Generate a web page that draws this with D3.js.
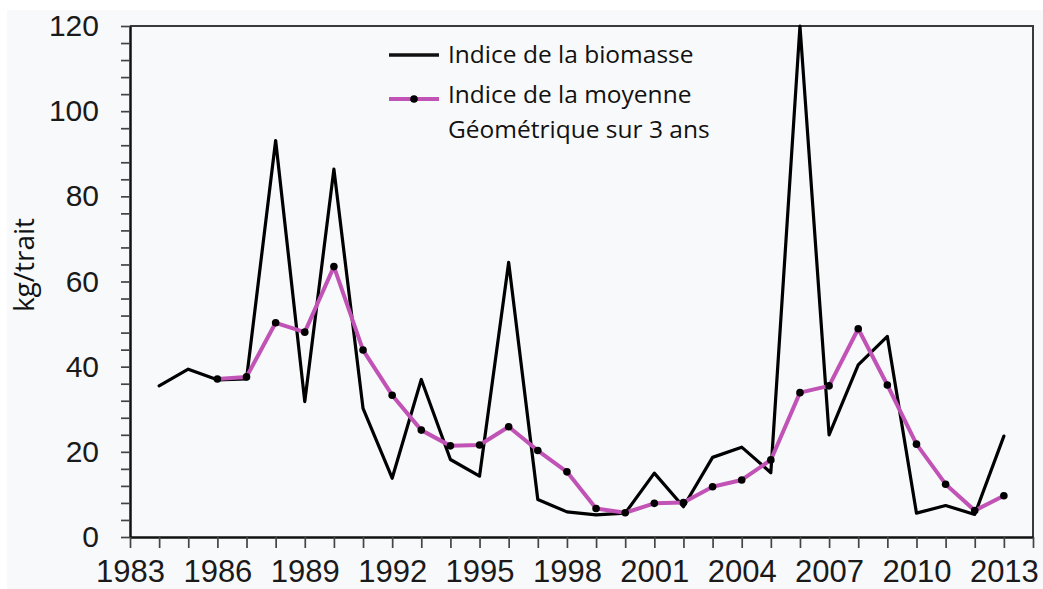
<!DOCTYPE html>
<html>
<head>
<meta charset="utf-8">
<script src="https://cdn.jsdelivr.net/npm/d3@7"></script>
<style>
  html, body { margin: 0; padding: 0; background: #ffffff; }
  svg { display: block; }
</style>
</head>
<body>
<svg id="chart" width="1043" height="589"></svg>
<script>
// ---- Data ----
const biomassYears = [1984, 1985, 1986, 1987, 1988, 1989, 1990, 1991, 1992, 1993,
                      1994, 1995, 1996, 1997, 1998, 1999, 2000, 2001, 2002, 2003,
                      2004, 2005, 2006, 2007, 2008, 2009, 2010, 2011, 2012, 2013];
const biomassValues = [35.5, 39.4, 36.9, 37.1, 93.1, 31.8, 86.4, 30.2, 13.8, 37.0,
                       18.2, 14.3, 64.5, 8.8, 5.9, 5.2, 5.6, 15.0, 7.1, 18.7,
                       21.1, 15.1, 120, 24.0, 40.4, 47.1, 5.6, 7.4, 5.3, 23.7];

const geoYears = [1986, 1987, 1988, 1989, 1990, 1991, 1992, 1993, 1994, 1995,
                  1996, 1997, 1998, 1999, 2000, 2001, 2002, 2003, 2004, 2005,
                  2006, 2007, 2008, 2009, 2010, 2011, 2012, 2013];
const geoValues = [37.1, 37.6, 50.3, 48.1, 63.5, 43.9, 33.3, 25.1, 21.4, 21.6,
                   25.9, 20.3, 15.3, 6.7, 5.7, 7.9, 8.1, 11.8, 13.4, 18.1,
                   33.9, 35.5, 48.9, 35.7, 21.8, 12.4, 6.2, 9.7];

const xTickYears = [1983, 1984, 1985, 1986, 1987, 1988, 1989, 1990, 1991, 1992,
                    1993, 1994, 1995, 1996, 1997, 1998, 1999, 2000, 2001, 2002,
                    2003, 2004, 2005, 2006, 2007, 2008, 2009, 2010, 2011, 2012,
                    2013, 2014];
const xLabelYears = [1983, 1986, 1989, 1992, 1995, 1998, 2001, 2004, 2007, 2010, 2013];
const yTickValues = [0, 4, 8, 12, 16, 20, 24, 28, 32, 36, 40, 44, 48, 52, 56, 60,
                     64, 68, 72, 76, 80, 84, 88, 92, 96, 100, 104, 108, 112, 116, 120];
const yLabelValues = [0, 20, 40, 60, 80, 100, 120];

const yAxisTitle = "kg/trait";
const legendLabels = ["Indice de la biomasse", "Indice de la moyenne", "Géométrique sur 3 ans"];

// ---- Layout ----
const W = 1043, H = 589;
const plot = { left: 130, right: 1033, top: 26, bottom: 537 };
const pink = "#c053b5";

const svg = d3.select("#chart");

// backgrounds
svg.append("rect").attr("x", 0).attr("y", 0).attr("width", W).attr("height", H).attr("fill", "#ffffff");
svg.append("rect").attr("x", 7).attr("y", 10).attr("width", W - 7).attr("height", H - 10).attr("fill", "#f8f9fb");

const x = d3.scaleLinear().domain([1983, 2014]).range([plot.left, plot.right]);
const y = d3.scaleLinear().domain([0, 120]).range([plot.bottom, plot.top]);

// frame (top & right)
svg.append("path")
  .attr("d", `M${plot.left},${plot.top}H${plot.right}V${plot.bottom}`)
  .attr("fill", "none").attr("stroke", "#3a3a3a").attr("stroke-width", 2);

// Y axis
const yAxis = d3.axisLeft(y)
  .tickValues(yTickValues)
  .tickFormat(d => yLabelValues.includes(d) ? String(d) : "")
  .tickSize(9).tickSizeOuter(0).tickPadding(22);
const gy = svg.append("g").attr("transform", `translate(${plot.left},0)`).call(yAxis);
gy.select(".domain").attr("stroke", "#111").attr("stroke-width", 2.5);
gy.selectAll(".tick line").attr("stroke", "#444").attr("stroke-width", 1.7);
gy.selectAll(".tick text")
  .attr("fill", "#1a1a1a")
  .style("font-family", "'Liberation Sans', Arial, sans-serif")
  .style("font-size", "30px");

// X axis
const xAxis = d3.axisBottom(x)
  .tickValues(xTickYears)
  .tickFormat(d => xLabelYears.includes(d) ? String(d) : "")
  .tickSize(11).tickSizeOuter(0).tickPadding(12);
const gx = svg.append("g").attr("transform", `translate(0,${plot.bottom})`).call(xAxis);
gx.select(".domain").attr("stroke", "#111").attr("stroke-width", 2.5);
gx.selectAll(".tick line").attr("stroke", "#444").attr("stroke-width", 1.7);
gx.selectAll(".tick text")
  .attr("fill", "#1a1a1a")
  .style("font-family", "'Liberation Sans', Arial, sans-serif")
  .style("font-size", "31px");

// Y axis title
svg.append("text")
  .attr("transform", `translate(34,265) rotate(-90)`)
  .attr("text-anchor", "middle")
  .attr("fill", "#111")
  .style("font-family", "'Open Sans', sans-serif")
  .style("font-size", "28px")
  .text(yAxisTitle);

// Lines
const biomass = biomassYears.map((yr, i) => ({ yr, v: biomassValues[i] }));
const geo = geoYears.map((yr, i) => ({ yr, v: geoValues[i] }));
const line = d3.line().x(d => x(d.yr)).y(d => y(d.v));

svg.append("path").datum(biomass)
  .attr("d", line)
  .attr("fill", "none").attr("stroke", "#000").attr("stroke-width", 3.2)
  .attr("stroke-linejoin", "round").attr("stroke-linecap", "round");

svg.append("path").datum(geo)
  .attr("d", line)
  .attr("fill", "none").attr("stroke", pink).attr("stroke-width", 4)
  .attr("stroke-linejoin", "round");

svg.append("g").selectAll("circle").data(geo).join("circle")
  .attr("cx", d => x(d.yr)).attr("cy", d => y(d.v)).attr("r", 3.8)
  .attr("fill", "#000");

// Legend
const lg = svg.append("g").attr("transform", "translate(389,0)");
lg.append("line").attr("x1", 0).attr("x2", 50).attr("y1", 55).attr("y2", 55)
  .attr("stroke", "#111").attr("stroke-width", 3.5);
lg.append("line").attr("x1", 0).attr("x2", 50).attr("y1", 99).attr("y2", 99)
  .attr("stroke", pink).attr("stroke-width", 4);
lg.append("circle").attr("cx", 25).attr("cy", 99).attr("r", 3.8).attr("fill", "#000");
const legendBaselines = [63, 103, 138];
lg.selectAll("text.leg").data(legendLabels).join("text")
  .attr("class", "leg")
  .attr("x", 59).attr("y", (d, i) => legendBaselines[i])
  .attr("fill", "#111")
  .style("font-family", "'Open Sans', sans-serif")
  .style("font-size", "24.5px")
  .text(d => d);
</script>
</body>
</html>
